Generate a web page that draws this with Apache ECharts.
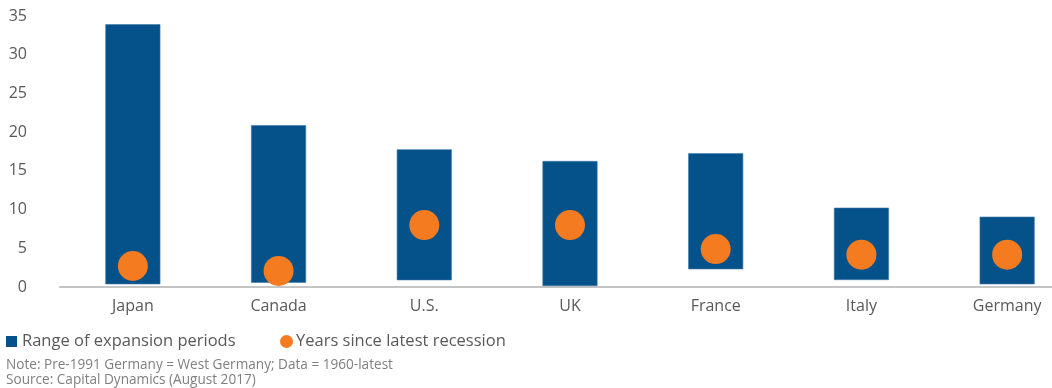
<!DOCTYPE html>
<html>
<head>
<meta charset="utf-8">
<script src="https://cdn.jsdelivr.net/npm/echarts@6/dist/echarts.min.js"></script>
<style>
  html, body { margin: 0; padding: 0; background: #ffffff; }
  #chart { width: 1052px; height: 388px; }
</style>
</head>
<body>
<div id="chart"></div>
<script>
// Countries shown along the category axis
const countries = ['Japan', 'Canada', 'U.S.', 'UK', 'France', 'Italy', 'Germany'];
// Shortest and longest expansion period per country (years)
const expansionMin = [0.35, 0.55, 0.87, 0.13, 2.29, 0.9, 0.35];
const expansionMax = [33.93, 20.9, 17.78, 16.27, 17.27, 10.24, 9.08];
// Years since the latest recession
const yearsSinceRecession = [2.71, 2.07, 8.0, 8.0, 4.9, 4.17, 4.17];
// Value-axis ticks
const yTickMax = 35;
const yTickStep = 5;

const rangeName = 'Range of expansion periods';
const dotName = 'Years since latest recession';
const FONT = '"Open Sans", "Noto Sans", sans-serif';
const BLUE = '#05528a';
const ORANGE = '#f47b20';

const rangeHeight = expansionMax.map((v, i) => +(v - expansionMin[i]).toFixed(2));

const chart = echarts.init(document.getElementById('chart'), null, { renderer: 'canvas' });
chart.setOption({
  animation: false,
  backgroundColor: '#ffffff',
  textStyle: { fontFamily: FONT },
  grid: {
    left: 60,
    right: -28,
    top: 16,
    bottom: 101,
    outerBoundsMode: 'none',
    containLabel: false
  },
  xAxis: {
    type: 'category',
    data: countries,
    axisLine: { show: true, lineStyle: { color: '#c4c4c4', width: 2 } },
    axisTick: { show: false },
    axisLabel: { color: '#595959', fontSize: 16, margin: 11, fontFamily: FONT },
    splitLine: { show: false }
  },
  yAxis: {
    type: 'value',
    min: 0,
    max: yTickMax,
    interval: yTickStep,
    axisLine: { show: false },
    axisTick: { show: false },
    splitLine: { show: false },
    axisLabel: { color: '#595959', fontSize: 16, margin: 33, fontFamily: FONT, padding: [5, 0, 0, 0] }
  },
  legend: [
    {
      left: 6,
      top: 333,
      padding: 0,
      itemWidth: 11,
      itemHeight: 11,
      icon: 'rect',
      itemStyle: { borderWidth: 0 },
      data: [rangeName],
      textStyle: { color: '#595959', fontSize: 16.5, fontFamily: FONT },
      selectedMode: false
    },
    {
      left: 280,
      top: 333,
      padding: 0,
      itemWidth: 13,
      itemHeight: 13,
      itemGap: 0,
      icon: 'circle',
      data: [dotName],
      textStyle: { color: '#595959', fontSize: 16.5, fontFamily: FONT, padding: [0, 0, 0, -2] },
      selectedMode: false
    }
  ],
  graphic: [
    {
      type: 'text',
      left: 6,
      top: 358,
      style: {
        text: 'Note: Pre-1991 Germany = West Germany; Data = 1960-latest\nSource: Capital Dynamics (August 2017)',
        fill: '#7f7f7f',
        font: '13.6px ' + FONT,
        lineHeight: 15
      }
    }
  ],
  series: [
    {
      name: 'base',
      type: 'bar',
      stack: 'range',
      barWidth: 55,
      silent: true,
      itemStyle: { color: 'transparent' },
      data: expansionMin
    },
    {
      name: rangeName,
      type: 'bar',
      stack: 'range',
      barWidth: 55,
      itemStyle: { color: BLUE, borderColor: '#3f77a8', borderWidth: 0.6 },
      data: rangeHeight
    },
    {
      name: dotName,
      type: 'scatter',
      symbol: 'circle',
      symbolSize: 30,
      z: 5,
      itemStyle: { color: ORANGE, opacity: 1 },
      data: yearsSinceRecession
    }
  ]
});
</script>
</body>
</html>
